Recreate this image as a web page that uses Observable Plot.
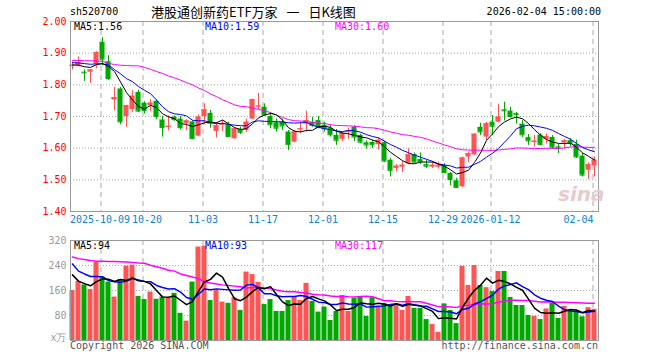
<!DOCTYPE html>
<html><head><meta charset="utf-8">
<script src="https://cdn.jsdelivr.net/npm/d3@7"></script>
<script src="https://cdn.jsdelivr.net/npm/@observablehq/plot@0.6"></script>
<style>
html,body{margin:0;padding:0;background:#fff;}
#wrap{position:relative;width:660px;height:360px;overflow:hidden;background:#fff;}
.t{position:absolute;font-family:'DejaVu Sans Mono',monospace;font-size:10px;line-height:12px;white-space:pre;}
.p{position:absolute;left:0;}
</style></head>
<body><div id="wrap"></div>
<script>
// ---- data ----
const open = [1.858,1.860,1.840,1.840,1.865,1.934,1.873,1.752,1.787,1.700,
1.722,1.776,1.742,1.734,1.748,1.689,1.665,1.698,1.692,1.678,
1.683,1.638,1.700,1.710,1.653,1.672,1.675,1.630,1.659,1.656,
1.692,1.730,1.729,1.700,1.680,1.682,1.651,1.619,1.658,1.677,
1.682,1.687,1.672,1.663,1.640,1.628,1.649,1.666,1.640,1.617,
1.618,1.611,1.617,1.562,1.536,1.540,1.551,1.580,1.564,1.548,
1.540,1.540,1.544,1.520,1.497,1.478,1.572,1.579,1.666,1.635,
1.682,1.682,1.721,1.717,1.709,1.676,1.633,1.618,1.641,1.627,
1.634,1.604,1.617,1.624,1.612,1.575,1.530,1.544];
const high = [1.872,1.888,1.847,1.848,1.905,1.949,1.892,1.792,1.792,1.736,
1.781,1.783,1.747,1.753,1.752,1.700,1.702,1.702,1.700,1.690,
1.686,1.705,1.740,1.719,1.682,1.687,1.682,1.663,1.666,1.692,
1.755,1.773,1.740,1.713,1.692,1.692,1.656,1.656,1.682,1.717,
1.698,1.700,1.682,1.672,1.659,1.650,1.663,1.671,1.644,1.623,
1.624,1.632,1.621,1.567,1.548,1.558,1.598,1.585,1.585,1.562,
1.556,1.556,1.551,1.523,1.505,1.572,1.588,1.645,1.679,1.682,
1.703,1.739,1.745,1.729,1.713,1.687,1.643,1.640,1.646,1.645,
1.640,1.611,1.627,1.630,1.625,1.583,1.554,1.572];
const low = [1.847,1.857,1.811,1.804,1.851,1.860,1.813,1.718,1.674,1.666,
1.713,1.712,1.708,1.716,1.690,1.635,1.655,1.685,1.657,1.656,
1.627,1.636,1.674,1.663,1.632,1.653,1.635,1.628,1.643,1.649,
1.690,1.722,1.700,1.661,1.651,1.656,1.593,1.617,1.645,1.651,
1.666,1.661,1.651,1.635,1.609,1.621,1.628,1.621,1.615,1.597,
1.599,1.594,1.556,1.509,1.525,1.523,1.548,1.551,1.548,1.536,
1.536,1.534,1.519,1.481,1.473,1.476,1.554,1.577,1.640,1.625,
1.640,1.680,1.686,1.695,1.676,1.634,1.609,1.604,1.607,1.613,
1.597,1.583,1.598,1.604,1.567,1.509,1.502,1.509];
const close = [1.862,1.870,1.838,1.847,1.902,1.881,1.820,1.760,1.683,1.734,
1.764,1.717,1.719,1.742,1.700,1.665,1.669,1.690,1.665,1.686,
1.630,1.698,1.721,1.679,1.671,1.677,1.637,1.661,1.650,1.682,
1.753,1.733,1.705,1.674,1.663,1.670,1.611,1.651,1.661,1.687,
1.672,1.666,1.661,1.642,1.625,1.646,1.653,1.635,1.619,1.610,
1.611,1.625,1.559,1.530,1.543,1.546,1.579,1.556,1.557,1.543,
1.546,1.546,1.523,1.501,1.476,1.569,1.583,1.644,1.651,1.677,
1.669,1.698,1.718,1.700,1.706,1.642,1.623,1.622,1.612,1.637,
1.603,1.601,1.623,1.615,1.572,1.515,1.548,1.562];
const volume = [160,189,178,163,252,202,187,139,195,238,
241,141,131,155,132,139,135,151,87,62,
187,299,302,128,162,123,119,137,96,219,
211,186,115,131,93,93,128,139,128,183,
125,91,107,64,93,144,93,135,139,77,
137,107,119,112,112,96,141,103,103,67,
51,26,117,96,54,237,176,240,176,169,
157,221,221,138,112,112,80,77,67,101,
119,71,109,95,94,76,105,100];
// moving-average values before each window is complete
const ma5Head = [1.863,1.862,1.857,1.855];
const ma10Head = [1.870,1.869,1.867,1.865,1.866,1.866,1.863,1.848,1.835];
const ma30Head = [1.877,1.877,1.876,1.876,1.876,1.874,1.868,1.864,1.862,1.861,
1.860,1.860,1.855,1.849,1.842,1.836,1.828,1.822,1.815,1.807,
1.800,1.790,1.782,1.771,1.763,1.753,1.745,1.737,1.732];
const vma5Head = [210,190,182,175];
const vma10Head = [245,222,213,205,205,204,192,188,186];
const vma30Head = [267,262,259,256,254,254,253,253,252,251,
250,248,247,241,236,231,225,222,213,208,
203,198,188,184,181,178,176,174,172];
const tickIdx = [5,12,22,32,42,52,62,70,87];
const tickLabels = ["2025-10-09","10-20","11-03","11-17","12-01","12-15","12-29","2026-01-12","02-04"];
const priceTicks = [1.40,1.50,1.60,1.70,1.80,1.90,2.00];
const volTicks = [80,160,240,320];
const title = "港股通创新药ETF万家 一 日K线图";
const code = "sh520700";
const stamp = "2026-02-04 15:00:00";
const priceMaLabels = ["MA5:1.56","MA10:1.59","MA30:1.60"];
const volMaLabels = ["MA5:94","MA10:93","MA30:117"];

// ---- build ----
const RED = "#ff5454", GREEN = "#00a800";
const N = close.length;
function ma(arr, n, head){ return arr.map((_, i) => i < n-1 ? head[i] : d3.mean(arr.slice(i-n+1, i+1))); }
const m5 = ma(close,5,ma5Head), m10 = ma(close,10,ma10Head), m30 = ma(close,30,ma30Head);
const v5 = ma(volume,5,vma5Head), v10 = ma(volume,10,vma10Head), v30 = ma(volume,30,vma30Head);
const rows = close.map((c,i)=>({i, open:open[i], high:high[i], low:low[i], close:c, vol:volume[i],
  col: c > open[i] ? RED : GREEN, m5:m5[i], m10:m10[i], m30:m30[i], v5:v5[i], v10:v10[i], v30:v30[i]}));
const HW = 0.42;
const xDom = [-1/3, N - 1/3];
const font = {fontFamily:"'DejaVu Sans Mono', monospace", fontSize:"10px", background:"transparent", overflow:"visible"};
const GRID = "#aaaaaa";
const labelDx = [-2.5, 2.5, -1.5, -1.5, -1.5, -1.5, -1.5, -2];
const tickRows = tickIdx.map((t,k)=>({t, label:tickLabels[k], dx: labelDx[k]}));

const price = Plot.plot({
  width:660, height:232, marginLeft:70, marginRight:62, marginTop:21, marginBottom:21,
  style:font,
  x:{domain:xDom, axis:null},
  y:{domain:[1.4,2.0], axis:null},
  color:{type:"identity"},
  marks:[
    Plot.ruleY(priceTicks.slice(1,-1), {stroke:GRID, strokeDasharray:"1,2"}),
    Plot.ruleX(tickIdx, {dx:-1.5, stroke:GRID, strokeDasharray:"5,4"}),
    Plot.ruleX(rows, {x:"i", y1:"low", y2:"high", stroke:"col"}),
    Plot.rect(rows, {x1:d=>d.i-HW, x2:d=>d.i+HW, y1:"open", y2:"close", fill:"col"}),
    Plot.ruleY(rows, {y:"close", x1:d=>d.i-HW, x2:d=>d.i+HW, stroke:"col"}),
    Plot.lineY(rows, {x:"i", y:"m30", stroke:"#ff00ff", strokeWidth:1}),
    Plot.lineY(rows, {x:"i", y:"m10", stroke:"#0000ff", strokeWidth:1}),
    Plot.lineY(rows, {x:"i", y:"m5", stroke:"#000000", strokeWidth:1}),
    Plot.frame({stroke:"#999"}),
    Plot.axisY(priceTicks, {tickSize:0, tickPadding:4, fill:"#ff0000", tickFormat:d=>d.toFixed(2), label:null}),
    ...tickRows.slice(0,-1).map(r => Plot.text([r], {x:"t", frameAnchor:"bottom", dy:11, dx:r.dx, text:"label", fill:"#0a84d4"})),
    Plot.text(tickRows.slice(-1), {x:"t", frameAnchor:"bottom", dy:11, dx:-1, textAnchor:"end", text:"label", fill:"#0a84d4"})
  ]
});

const vol = Plot.plot({
  width:660, height:128, marginLeft:70, marginRight:62, marginTop:8, marginBottom:20,
  style:font,
  x:{domain:xDom, axis:null},
  y:{domain:[0,320], axis:null},
  color:{type:"identity"},
  marks:[
    Plot.ruleY(volTicks.slice(0,-1), {stroke:GRID, strokeDasharray:"1,2"}),
    Plot.ruleX(tickIdx, {dx:-1.5, stroke:GRID, strokeDasharray:"5,4"}),
    Plot.rectY(rows, {x1:d=>d.i-HW, x2:d=>d.i+HW, y:"vol", fill:"col"}),
    Plot.lineY(rows, {x:"i", y:"v30", stroke:"#ff00ff"}),
    Plot.lineY(rows, {x:"i", y:"v10", stroke:"#0000ff"}),
    Plot.lineY(rows, {x:"i", y:"v5", stroke:"#000000"}),
    Plot.frame({stroke:"#999"}),
    Plot.axisY(volTicks, {tickSize:0, tickPadding:4, fill:"#999", label:null}),
    Plot.text(["x万"], {frameAnchor:"bottom-left", dx:-4, textAnchor:"end", fill:"#999"})
  ]
});

const wrap = document.getElementById("wrap");
price.classList.add("p"); price.style.top = "0px"; price.style.position="absolute";
vol.classList.add("p"); vol.style.top = "232px"; vol.style.position="absolute";
wrap.appendChild(price); wrap.appendChild(vol);

function addText(txt, left, top, color, extra){
  const d = document.createElement("div");
  d.className = "t"; d.textContent = txt;
  d.style.left = left + "px"; d.style.top = top + "px"; d.style.color = color;
  if (extra) Object.assign(d.style, extra);
  wrap.appendChild(d); return d;
}
addText(code, 70, 6, "#000");
addText(title, 151, 3, "#000", {fontFamily:"'Noto Sans CJK SC', sans-serif", fontSize:"13px", lineHeight:"18px", wordSpacing:"6px"});
addText(stamp, 0, 6, "#000", {left:"auto", right:"59px"});
const maCols = ["#000","#0000ff","#ff00ff"];
const maX = [74, 205, 335];
priceMaLabels.forEach((s,k)=>addText(s, maX[k], 21, maCols[k]));
volMaLabels.forEach((s,k)=>addText(s, maX[k], 240, maCols[k]));
addText("Copyright 2026 SINA.COM", 70, 340, "#555");
addText("http://finance.sina.com.cn", 0, 340, "#555", {left:"auto", right:"62px"});
addText("sina", 558, 182, "#e6cccc", {fontFamily:"'DejaVu Sans', sans-serif", fontSize:"20px", fontWeight:"bold", fontStyle:"italic", lineHeight:"24px"});
</script>
</body></html>
